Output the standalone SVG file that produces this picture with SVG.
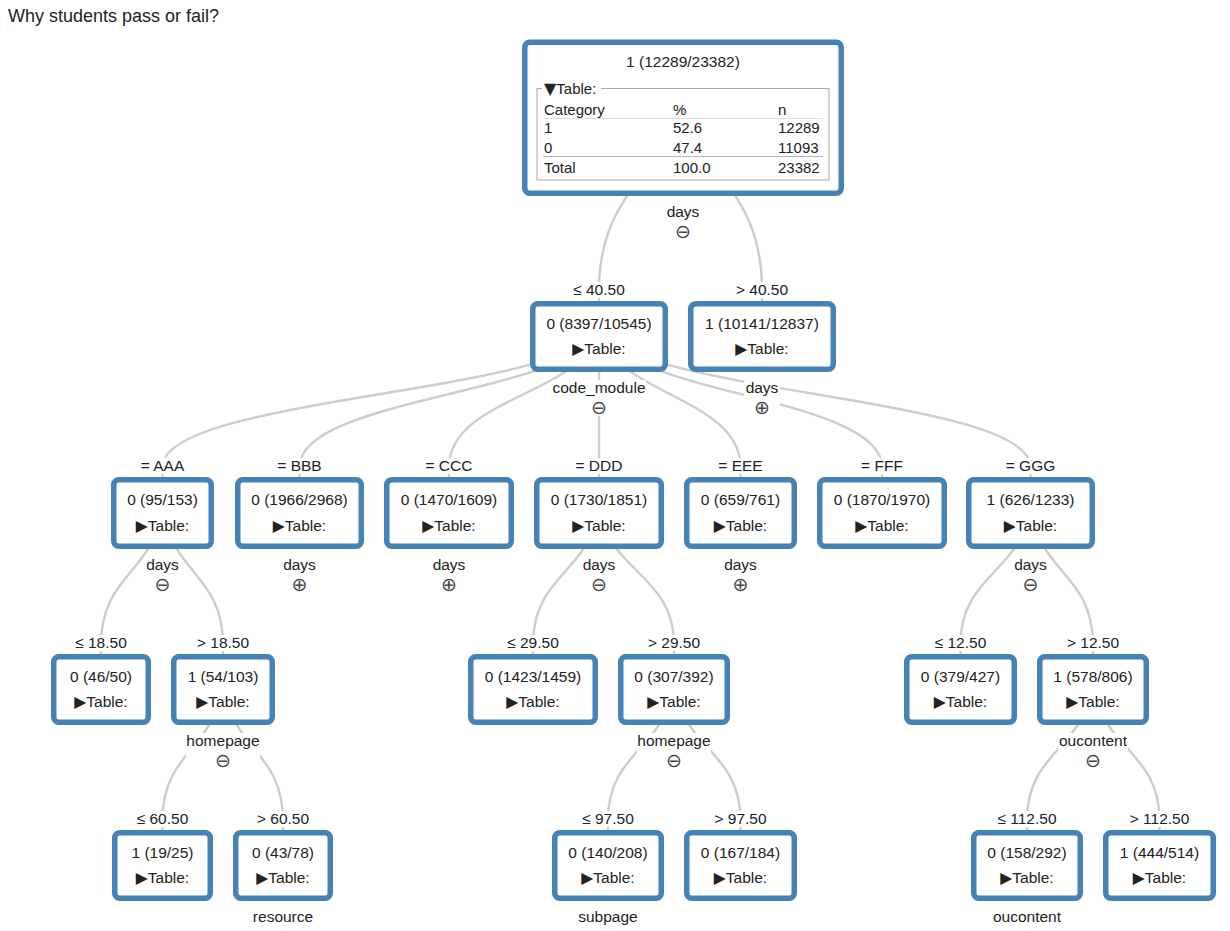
<svg xmlns="http://www.w3.org/2000/svg" width="1230" height="931" viewBox="0 0 1230 931">
<style>
.t{font-family:"Liberation Sans",Arial,"DejaVu Sans",sans-serif;fill:#222;font-size:15.5px}
.m{text-anchor:middle}
.tb{font-size:15px}
.tri{font-family:"DejaVu Sans",sans-serif}
.sym{font-family:"DejaVu Sans",sans-serif;font-size:19px;text-anchor:middle;fill:#444}
.box{fill:#fff;stroke:#4682b4;stroke-width:5.5}
.link{fill:none;stroke:#cdcdcd;stroke-width:2.4}
.bg{fill:#fff}
</style>
<rect width="1230" height="931" fill="#fff"/>
<text class="t" x="8" y="21.5" style="font-size:18px">Why students pass or fail?</text>

<g id="connectors">
<path class="link" d="M683,61 C683,176 599,176 599,291 L599,301"/>
<path class="link" d="M683,61 C683,176 762,176 762,291 L762,301"/>
<path class="link" d="M599,321 C599,394 162.5,394 162.5,467 L162.5,477"/>
<path class="link" d="M599,321 C599,394 299.5,394 299.5,467 L299.5,477"/>
<path class="link" d="M599,321 C599,394 449,394 449,467 L449,477"/>
<path class="link" d="M599,321 L599,477"/>
<path class="link" d="M599,321 C599,394 740.5,394 740.5,467 L740.5,477"/>
<path class="link" d="M599,321 C599,394 882,394 882,467 L882,477"/>
<path class="link" d="M599,321 C599,394 1030.5,394 1030.5,467 L1030.5,477"/>
<path class="link" d="M162.5,497 C162.5,570.5 101,570.5 101,644 L101,654"/>
<path class="link" d="M162.5,497 C162.5,570.5 223,570.5 223,644 L223,654"/>
<path class="link" d="M599,497 C599,570.5 533,570.5 533,644 L533,654"/>
<path class="link" d="M599,497 C599,570.5 674,570.5 674,644 L674,654"/>
<path class="link" d="M1030.5,497 C1030.5,570.5 960.5,570.5 960.5,644 L960.5,654"/>
<path class="link" d="M1030.5,497 C1030.5,570.5 1093,570.5 1093,644 L1093,654"/>
<path class="link" d="M223,674 C223,747 162.5,747 162.5,820 L162.5,830"/>
<path class="link" d="M223,674 C223,747 283,747 283,820 L283,830"/>
<path class="link" d="M674,674 C674,747 608,747 608,820 L608,830"/>
<path class="link" d="M674,674 C674,747 740.5,747 740.5,820 L740.5,830"/>
<path class="link" d="M1093,674 C1093,747 1027,747 1027,820 L1027,830"/>
<path class="link" d="M1093,674 C1093,747 1159.5,747 1159.5,820 L1159.5,830"/>
</g>

<g id="n-root">
<rect class="box" x="524.75" y="42.25" width="316.5" height="151" rx="5"/>
<text class="t m" x="683" y="67">1 (12289/23382)</text>
<rect x="537" y="88.5" width="292" height="91.5" fill="none" stroke="#a9a9a9" stroke-width="1"/>
<rect class="bg" x="542" y="82" width="59" height="13"/>
<text class="t tb" x="544" y="94"><tspan class="tri" style="font-size:16px">▼</tspan>Table:</text>
<text class="t tb" x="544" y="114.5">Category</text>
<text class="t tb" x="673" y="114.5">%</text>
<text class="t tb" x="778" y="114.5">n</text>
<path d="M543,118.5 H823" stroke="#dcdcdc" stroke-width="1"/>
<text class="t tb" x="544" y="132.5">1</text>
<text class="t tb" x="673" y="132.5">52.6</text>
<text class="t tb" x="778" y="132.5">12289</text>
<text class="t tb" x="544" y="152.5">0</text>
<text class="t tb" x="673" y="152.5">47.4</text>
<text class="t tb" x="778" y="152.5">11093</text>
<path d="M543,156.5 H823" stroke="#b5b5b5" stroke-width="1"/>
<text class="t tb" x="544" y="172.5">Total</text>
<text class="t tb" x="673" y="172.5">100.0</text>
<text class="t tb" x="778" y="172.5">23382</text>
<rect class="bg" x="665" y="204" width="36" height="36"/>
<text class="t m" x="683" y="216.5">days</text>
<text class="sym" x="683" y="238">⊖</text>
</g>

<g id="n-le40">
<rect class="bg" x="591" y="282" width="16" height="16"/>
<text class="t m" x="599" y="294.5">≤ 40.50</text>
<rect class="box" x="532.75" y="303.75" width="132.5" height="65.5" rx="5"/>
<text class="t m" x="599" y="328.5">0 (8397/10545)</text>
<text class="t m" x="599" y="354">▶Table:</text>
<rect class="bg" x="552" y="380" width="94" height="36"/>
<text class="t m" x="599" y="392.5">code_module</text>
<text class="sym" x="599" y="414">⊖</text>
</g>

<g id="n-gt40">
<rect class="bg" x="754" y="282" width="16" height="16"/>
<text class="t m" x="762" y="294.5">&gt; 40.50</text>
<rect class="box" x="690.75" y="303.75" width="142.5" height="65.5" rx="5"/>
<text class="t m" x="762" y="328.5">1 (10141/12837)</text>
<text class="t m" x="762" y="354">▶Table:</text>
<rect class="bg" x="744" y="380" width="36" height="36"/>
<text class="t m" x="762" y="392.5">days</text>
<text class="sym" x="762" y="414">⊕</text>
</g>

<g id="n-aaa">
<rect class="bg" x="154.5" y="458" width="16" height="16"/>
<text class="t m" x="162.5" y="470.5">= AAA</text>
<rect class="box" x="113.75" y="479.75" width="97.5" height="66.5" rx="5"/>
<text class="t m" x="162.5" y="505">0 (95/153)</text>
<text class="t m" x="162.5" y="530.5">▶Table:</text>
<rect class="bg" x="144.5" y="557" width="36" height="36"/>
<text class="t m" x="162.5" y="569.5">days</text>
<text class="sym" x="162.5" y="591">⊖</text>
</g>

<g id="n-bbb">
<rect class="bg" x="291.5" y="458" width="16" height="16"/>
<text class="t m" x="299.5" y="470.5">= BBB</text>
<rect class="box" x="237.75" y="479.75" width="123.5" height="66.5" rx="5"/>
<text class="t m" x="299.5" y="505">0 (1966/2968)</text>
<text class="t m" x="299.5" y="530.5">▶Table:</text>
<text class="t m" x="299.5" y="569.5">days</text>
<text class="sym" x="299.5" y="591">⊕</text>
</g>

<g id="n-ccc">
<rect class="bg" x="441" y="458" width="16" height="16"/>
<text class="t m" x="449" y="470.5">= CCC</text>
<rect class="box" x="386.75" y="479.75" width="124.5" height="66.5" rx="5"/>
<text class="t m" x="449" y="505">0 (1470/1609)</text>
<text class="t m" x="449" y="530.5">▶Table:</text>
<text class="t m" x="449" y="569.5">days</text>
<text class="sym" x="449" y="591">⊕</text>
</g>

<g id="n-ddd">
<rect class="bg" x="591" y="458" width="16" height="16"/>
<text class="t m" x="599" y="470.5">= DDD</text>
<rect class="box" x="536.75" y="479.75" width="124.5" height="66.5" rx="5"/>
<text class="t m" x="599" y="505">0 (1730/1851)</text>
<text class="t m" x="599" y="530.5">▶Table:</text>
<rect class="bg" x="581" y="557" width="36" height="36"/>
<text class="t m" x="599" y="569.5">days</text>
<text class="sym" x="599" y="591">⊖</text>
</g>

<g id="n-eee">
<rect class="bg" x="732.5" y="458" width="16" height="16"/>
<text class="t m" x="740.5" y="470.5">= EEE</text>
<rect class="box" x="686.75" y="479.75" width="107.5" height="66.5" rx="5"/>
<text class="t m" x="740.5" y="505">0 (659/761)</text>
<text class="t m" x="740.5" y="530.5">▶Table:</text>
<text class="t m" x="740.5" y="569.5">days</text>
<text class="sym" x="740.5" y="591">⊕</text>
</g>

<g id="n-fff">
<rect class="bg" x="874" y="458" width="16" height="16"/>
<text class="t m" x="882" y="470.5">= FFF</text>
<rect class="box" x="819.75" y="479.75" width="124.5" height="66.5" rx="5"/>
<text class="t m" x="882" y="505">0 (1870/1970)</text>
<text class="t m" x="882" y="530.5">▶Table:</text>
</g>

<g id="n-ggg">
<rect class="bg" x="1022.5" y="458" width="16" height="16"/>
<text class="t m" x="1030.5" y="470.5">= GGG</text>
<rect class="box" x="968.75" y="479.75" width="123.5" height="66.5" rx="5"/>
<text class="t m" x="1030.5" y="505">1 (626/1233)</text>
<text class="t m" x="1030.5" y="530.5">▶Table:</text>
<rect class="bg" x="1012.5" y="557" width="36" height="36"/>
<text class="t m" x="1030.5" y="569.5">days</text>
<text class="sym" x="1030.5" y="591">⊖</text>
</g>

<g id="n-aaa-le18">
<rect class="bg" x="93" y="635" width="16" height="16"/>
<text class="t m" x="101" y="647.5">≤ 18.50</text>
<rect class="box" x="53.75" y="656.75" width="94.5" height="65.5" rx="5"/>
<text class="t m" x="101" y="681.5">0 (46/50)</text>
<text class="t m" x="101" y="707">▶Table:</text>
</g>

<g id="n-aaa-gt18">
<rect class="bg" x="215" y="635" width="16" height="16"/>
<text class="t m" x="223" y="647.5">&gt; 18.50</text>
<rect class="box" x="173.75" y="656.75" width="98.5" height="65.5" rx="5"/>
<text class="t m" x="223" y="681.5">1 (54/103)</text>
<text class="t m" x="223" y="707">▶Table:</text>
<rect class="bg" x="186" y="733" width="74" height="36"/>
<text class="t m" x="223" y="745.5">homepage</text>
<text class="sym" x="223" y="767">⊖</text>
</g>

<g id="n-ddd-le29">
<rect class="bg" x="525" y="635" width="16" height="16"/>
<text class="t m" x="533" y="647.5">≤ 29.50</text>
<rect class="box" x="470.75" y="656.75" width="124.5" height="65.5" rx="5"/>
<text class="t m" x="533" y="681.5">0 (1423/1459)</text>
<text class="t m" x="533" y="707">▶Table:</text>
</g>

<g id="n-ddd-gt29">
<rect class="bg" x="666" y="635" width="16" height="16"/>
<text class="t m" x="674" y="647.5">&gt; 29.50</text>
<rect class="box" x="620.75" y="656.75" width="106.5" height="65.5" rx="5"/>
<text class="t m" x="674" y="681.5">0 (307/392)</text>
<text class="t m" x="674" y="707">▶Table:</text>
<rect class="bg" x="637" y="733" width="74" height="36"/>
<text class="t m" x="674" y="745.5">homepage</text>
<text class="sym" x="674" y="767">⊖</text>
</g>

<g id="n-ggg-le12">
<rect class="bg" x="952.5" y="635" width="16" height="16"/>
<text class="t m" x="960.5" y="647.5">≤ 12.50</text>
<rect class="box" x="906.75" y="656.75" width="107.5" height="65.5" rx="5"/>
<text class="t m" x="960.5" y="681.5">0 (379/427)</text>
<text class="t m" x="960.5" y="707">▶Table:</text>
</g>

<g id="n-ggg-gt12">
<rect class="bg" x="1085" y="635" width="16" height="16"/>
<text class="t m" x="1093" y="647.5">&gt; 12.50</text>
<rect class="box" x="1039.75" y="656.75" width="106.5" height="65.5" rx="5"/>
<text class="t m" x="1093" y="681.5">1 (578/806)</text>
<text class="t m" x="1093" y="707">▶Table:</text>
<rect class="bg" x="1058" y="733" width="70" height="36"/>
<text class="t m" x="1093" y="745.5">oucontent</text>
<text class="sym" x="1093" y="767">⊖</text>
</g>

<g id="n-home-le60">
<rect class="bg" x="154.5" y="811" width="16" height="16"/>
<text class="t m" x="162.5" y="823.5">≤ 60.50</text>
<rect class="box" x="114.75" y="832.75" width="95.5" height="65.5" rx="5"/>
<text class="t m" x="162.5" y="857.5">1 (19/25)</text>
<text class="t m" x="162.5" y="883">▶Table:</text>
</g>

<g id="n-home-gt60">
<rect class="bg" x="275" y="811" width="16" height="16"/>
<text class="t m" x="283" y="823.5">&gt; 60.50</text>
<rect class="box" x="235.75" y="832.75" width="94.5" height="65.5" rx="5"/>
<text class="t m" x="283" y="857.5">0 (43/78)</text>
<text class="t m" x="283" y="883">▶Table:</text>
<text class="t m" x="283" y="921.5">resource</text>
<text class="sym" x="283" y="943">⊖</text>
</g>

<g id="n-home-le97">
<rect class="bg" x="600" y="811" width="16" height="16"/>
<text class="t m" x="608" y="823.5">≤ 97.50</text>
<rect class="box" x="554.75" y="832.75" width="106.5" height="65.5" rx="5"/>
<text class="t m" x="608" y="857.5">0 (140/208)</text>
<text class="t m" x="608" y="883">▶Table:</text>
<text class="t m" x="608" y="921.5">subpage</text>
<text class="sym" x="608" y="943">⊖</text>
</g>

<g id="n-home-gt97">
<rect class="bg" x="732.5" y="811" width="16" height="16"/>
<text class="t m" x="740.5" y="823.5">&gt; 97.50</text>
<rect class="box" x="686.75" y="832.75" width="107.5" height="65.5" rx="5"/>
<text class="t m" x="740.5" y="857.5">0 (167/184)</text>
<text class="t m" x="740.5" y="883">▶Table:</text>
</g>

<g id="n-ouc-le112">
<rect class="bg" x="1019" y="811" width="16" height="16"/>
<text class="t m" x="1027" y="823.5">≤ 112.50</text>
<rect class="box" x="973.75" y="832.75" width="106.5" height="65.5" rx="5"/>
<text class="t m" x="1027" y="857.5">0 (158/292)</text>
<text class="t m" x="1027" y="883">▶Table:</text>
<text class="t m" x="1027" y="921.5">oucontent</text>
<text class="sym" x="1027" y="943">⊖</text>
</g>

<g id="n-ouc-gt112">
<rect class="bg" x="1151.5" y="811" width="16" height="16"/>
<text class="t m" x="1159.5" y="823.5">&gt; 112.50</text>
<rect class="box" x="1105.75" y="832.75" width="107.5" height="65.5" rx="5"/>
<text class="t m" x="1159.5" y="857.5">1 (444/514)</text>
<text class="t m" x="1159.5" y="883">▶Table:</text>
</g>
</svg>
